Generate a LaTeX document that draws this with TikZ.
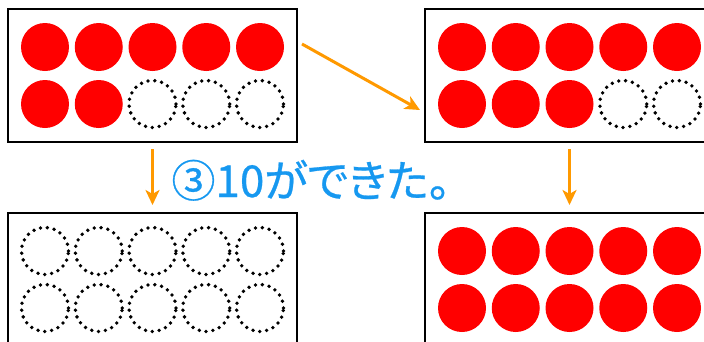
\documentclass[tikz,border=0pt]{standalone}
\usepackage{fontspec}
\newfontfamily\jpfont[RawFeature=+palt,FakeBold=0.6]{Noto Sans CJK JP}
\usetikzlibrary{arrows.meta}
\definecolor{dotred}{RGB}{255,0,0}
\definecolor{floworange}{RGB}{255,153,0}
\definecolor{msgblue}{RGB}{22,152,240}

\begin{document}
\begin{tikzpicture}[x=1pt,y=-1pt,
 frame/.style={draw,line width=2pt,minimum width=289pt,minimum height=133pt,inner sep=0pt},
 full/.style={circle,fill=dotred,minimum size=48pt,inner sep=0pt},
 empty/.style={circle,draw,line width=3.8pt,line cap=round,dash pattern=on 0pt off 6.9pt,minimum size=47pt,inner sep=0pt},
 flow/.style={draw=floworange,line width=3pt,-{Stealth[length=15pt,width=14pt,inset=4pt]}}]
\useasboundingbox (0,0) rectangle (704,341);
\node[frame] (before) at (152.5,75.5) {};
\node[frame] (after) at (569.5,75.5) {};
\node[frame] (ten) at (152.5,279.5) {};
\node[frame] (rest) at (569.5,279.5) {};
% counters: filled ones first, the rest empty
\foreach \grid/\n in {before/7,after/8,ten/0,rest/10}
 \foreach \r in {0,1}
  \foreach \c in {0,...,4} {
   \pgfmathtruncatemacro\k{5*\r+\c+1}
   \ifnum\k>\n \def\kind{empty}\else\def\kind{full}\fi
   \node[\kind] (\grid-\k) at ([shift={({-107.5+53.75*\c},{-28.5+57*\r})}]\grid.center) {};
  }
\coordinate (move-from) at (302,44);
\coordinate (move-to) at (420,110);
\draw[flow] (move-from) -- (move-to);
\draw[flow,shorten <=6pt,shorten >=7pt] (before.south) -- (ten.north);
\draw[flow,shorten <=6pt,shorten >=7pt] (after.south) -- (rest.north);
\node[text=msgblue,font=\jpfont\fontsize{44}{44}\selectfont,anchor=base,inner sep=0pt] (msg) at (311,197) {③10ができた。};
\end{tikzpicture}
\end{document}
